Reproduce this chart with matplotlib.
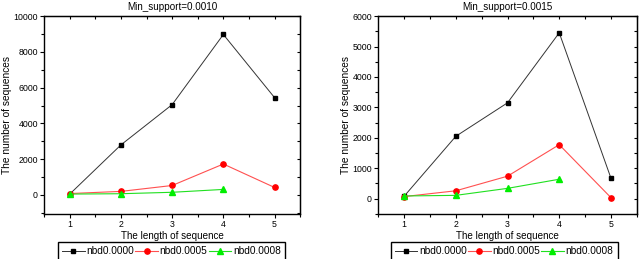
import matplotlib.pyplot as plt
from matplotlib.ticker import MultipleLocator

plt.rcParams["font.family"] = ["Liberation Sans", "DejaVu Sans"]

lengths = [1, 2, 3, 4, 5]
lengths_short = [1, 2, 3, 4]

# Min_support = 0.0010
left_nbd0000 = [50, 2800, 5050, 8970, 5440]
left_nbd0005 = [80, 200, 530, 1730, 420]
left_nbd0008 = [50, 70, 150, 310]

# Min_support = 0.0015
right_nbd0000 = [80, 2050, 3150, 5450, 675]
right_nbd0005 = [70, 260, 740, 1775, 35]
right_nbd0008 = [90, 110, 340, 640]

series_labels = ["nbd0.0000", "nbd0.0005", "nbd0.0008"]
titles = ["Min_support=0.0010", "Min_support=0.0015"]

fig = plt.figure(figsize=(6.4, 2.59), dpi=100)
ax1 = fig.add_axes([0.069, 0.174, 0.400, 0.764])
ax2 = fig.add_axes([0.591, 0.174, 0.404, 0.764])

panels = [
    (ax1, left_nbd0000, left_nbd0005, left_nbd0008, (-1060, 10000), 2000, 1000, 0.268),
    (ax2, right_nbd0000, right_nbd0005, right_nbd0008, (-500, 6000), 1000, 500, 0.788),
]

for i, (ax, s0, s5, s8, ylim, ymaj, ymin, lx) in enumerate(panels):
    h0, = ax.plot(lengths, s0, color="#333333", lw=0.7, marker="s", ms=3.5,
                  mfc="black", mec="black")
    h5, = ax.plot(lengths, s5, color="#ff5050", lw=0.8, marker="o", ms=3.8,
                  mfc="red", mec="red")
    h8, = ax.plot(lengths_short, s8, color="#20e020", lw=0.8, marker="^", ms=3.8,
                  mfc="#00ee00", mec="#00ee00")

    ax.set_xlim(0.5, 5.5)
    ax.set_ylim(*ylim)
    ax.xaxis.set_major_locator(MultipleLocator(1))
    ax.xaxis.set_minor_locator(MultipleLocator(0.5))
    ax.yaxis.set_major_locator(MultipleLocator(ymaj))
    ax.yaxis.set_minor_locator(MultipleLocator(ymin))

    ax.tick_params(which="both", direction="out", labelsize=6.3, width=0.8,
                   pad=1.5)
    ax.tick_params(which="major", length=3)
    ax.tick_params(which="minor", length=2)

    # inward ticks on top and right, no labels
    top = ax.secondary_xaxis("top")
    top.xaxis.set_major_locator(MultipleLocator(0.5))
    top.tick_params(direction="in", length=2.5, labeltop=False, width=0.8)
    right = ax.secondary_yaxis("right")
    right.yaxis.set_major_locator(MultipleLocator(ymin if i == 1 else 1000))
    right.tick_params(direction="in", length=2.5, labelright=False, width=0.8)

    for spine in ax.spines.values():
        spine.set_linewidth(1.0)

    ax.set_title(titles[i], fontsize=7.1, pad=4.5)
    ax.set_xlabel("The length of sequence", fontsize=7.1, labelpad=1.5)
    ax.set_ylabel("The number of sequences", fontsize=7.3, labelpad=1)

    fig.legend([h0, h5, h8], series_labels, loc="upper center",
               bbox_to_anchor=(lx, 0.066), ncol=3, fontsize=7.3,
               frameon=True, fancybox=False, edgecolor="black",
               framealpha=1, handlelength=2.2, handletextpad=0.2,
               columnspacing=0.1, borderpad=0.45, borderaxespad=0)

fig.savefig("out.png", dpi=100)
